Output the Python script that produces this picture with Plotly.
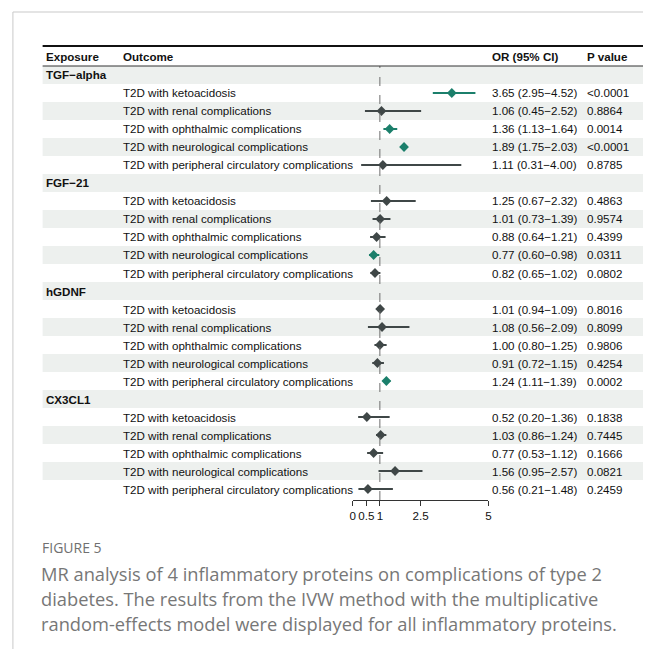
import plotly.graph_objects as go

# ---- data -------------------------------------------------------------
exposures = ["TGF\u2212alpha", "FGF\u221221", "hGDNF", "CX3CL1"]
outcomes = [
    "T2D with ketoacidosis",
    "T2D with renal complications",
    "T2D with ophthalmic complications",
    "T2D with neurological complications",
    "T2D with peripheral circulatory complications",
]
or_est = [3.65, 1.06, 1.36, 1.89, 1.11,
          1.25, 1.01, 0.88, 0.77, 0.82,
          1.01, 1.08, 1.00, 0.91, 1.24,
          0.52, 1.03, 0.77, 1.56, 0.56]
ci_low = [2.95, 0.45, 1.13, 1.75, 0.31,
          0.67, 0.73, 0.64, 0.60, 0.65,
          0.94, 0.56, 0.80, 0.72, 1.11,
          0.20, 0.86, 0.53, 0.95, 0.21]
ci_high = [4.52, 2.52, 1.64, 2.03, 4.00,
           2.32, 1.39, 1.21, 0.98, 1.02,
           1.09, 2.09, 1.25, 1.15, 1.39,
           1.36, 1.24, 1.12, 2.57, 1.48]
p_text = ["<0.0001", "0.8864", "0.0014", "<0.0001", "0.8785",
          "0.4863", "0.9574", "0.4399", "0.0311", "0.0802",
          "0.8016", "0.8099", "0.9806", "0.4254", "0.0002",
          "0.1838", "0.7445", "0.1666", "0.0821", "0.2459"]
x_ticks = [0, 0.5, 1, 2.5, 5]
caption_title = "FIGURE 5"
caption_lines = [
    "MR analysis of 4 inflammatory proteins on complications of type 2",
    "diabetes. The results from the IVW method with the multiplicative",
    "random-effects model were displayed for all inflammatory proteins.",
]

# ---- layout helpers (pixel -> paper) ----------------------------------
W, H = 646, 649
def px(x):
    return x / W
def py(y):
    return 1 - y / H

GREEN = "#1b7f6b"
GREY = "#3f4747"
SHADE = "#edf0ee"
FONT = "Liberation Sans, Arial, sans-serif"
FS = 11.6

ROW_TOP, ROW_H = 66, 18
n_rows = len(exposures) * (len(outcomes) + 1)
TABLE_BOTTOM = ROW_TOP + n_rows * ROW_H

# build table rows: group heading followed by its outcomes
rows = []
k = 0
for g in exposures:
    rows.append(dict(kind="group", label=g))
    for o in outcomes:
        p_num = float(p_text[k].replace("<", ""))
        rows.append(dict(kind="item", label=o, est=or_est[k], lo=ci_low[k],
                         hi=ci_high[k], p=p_text[k], sig=p_num < 0.05))
        k += 1

fig = go.Figure()

for sig, col in [(False, GREY), (True, GREEN)]:
    ys, xs, ep, em = [], [], [], []
    for i, r in enumerate(rows):
        if r["kind"] == "item" and r["sig"] == sig:
            ys.append(i)
            xs.append(r["est"])
            ep.append(r["hi"] - r["est"])
            em.append(r["est"] - r["lo"])
    fig.add_trace(go.Scatter(
        x=xs, y=ys, mode="markers",
        marker=dict(symbol="diamond", size=7.5, color=col),
        error_x=dict(type="data", symmetric=False, array=ep, arrayminus=em,
                     color=col, thickness=2, width=0),
        showlegend=False, hoverinfo="skip", cliponaxis=False,
    ))

shapes = []
annotations = []

# alternating row shading
for i in range(n_rows):
    if i % 2 == 0:
        shapes.append(dict(type="rect", xref="paper", yref="y",
                           x0=px(40), x1=1, y0=i - 0.5, y1=i + 0.5,
                           fillcolor=SHADE, line=dict(width=0), layer="below"))

# reference line at OR = 1
shapes.append(dict(type="line", xref="x", yref="paper", x0=1, x1=1,
                   y0=py(TABLE_BOTTOM + 2), y1=py(ROW_TOP),
                   line=dict(color="#6e6e6e", width=1, dash="dash"), layer="above"))

# header rules
shapes.append(dict(type="line", xref="paper", yref="paper", x0=px(40), x1=1,
                   y0=py(46), y1=py(46), line=dict(color="#111", width=2)))
shapes.append(dict(type="line", xref="paper", yref="paper", x0=px(40), x1=1,
                   y0=py(66), y1=py(66), line=dict(color="#333", width=1)))

# outer frame
shapes.append(dict(type="line", xref="paper", yref="paper", x0=px(10), x1=1,
                   y0=py(12), y1=py(12), line=dict(color="#c9c9c9", width=1)))
shapes.append(dict(type="line", xref="paper", yref="paper", x0=px(10), x1=px(10),
                   y0=py(12), y1=0, line=dict(color="#c9c9c9", width=1)))

def txt(x, y, s, yref="paper", size=FS, color="#111", family=FONT):
    annotations.append(dict(x=x, y=y, xref="paper", yref=yref, text=s,
                            showarrow=False, xanchor="left", yanchor="middle",
                            borderpad=0,
                            font=dict(family=family, size=size, color=color)))

# column left edges (annotation box adds a couple of pixels of padding)
COL_EXP, COL_OUT, COL_OR, COL_P = 42, 120, 493, 588

# header
for x0, s in [(COL_EXP, "Exposure"), (COL_OUT, "Outcome"),
              (COL_OR, "OR (95% CI)"), (COL_P, "P value")]:
    txt(px(x0), py(57), "<b>%s</b>" % s)

# body
for i, r in enumerate(rows):
    if r["kind"] == "group":
        txt(px(COL_EXP), i, "<b>%s</b>" % r["label"], yref="y")
    else:
        txt(px(COL_OUT), i, r["label"], yref="y")
        txt(px(COL_OR), i, "%.2f (%.2f\u2212%.2f)" % (r["est"], r["lo"], r["hi"]), yref="y")
        txt(px(COL_P), i, r["p"], yref="y")

# caption
CAP_FONT = "Open Sans, Lato, sans-serif"
txt(px(38), py(547), caption_title, size=14, color="#707070", family=CAP_FONT)
for j, line in enumerate(caption_lines):
    txt(px(37), py(573 + 25 * j), line, size=18.3, color="#777777", family=CAP_FONT)

fig.update_layout(
    width=W, height=H,
    margin=dict(l=0, r=0, t=0, b=0),
    paper_bgcolor="white", plot_bgcolor="rgba(0,0,0,0)",
    shapes=shapes, annotations=annotations,
    xaxis=dict(domain=[px(353), px(490)], range=[0, 5],
               tickvals=x_ticks, ticktext=[("%g" % v) for v in x_ticks],
               ticks="outside", ticklen=5, tickcolor="#333", tickwidth=1,
               showline=True, linecolor="#333", linewidth=1,
               showgrid=False, zeroline=False, anchor="free",
               position=py(TABLE_BOTTOM + 2),
               tickfont=dict(family=FONT, size=FS, color="#111")),
    yaxis=dict(domain=[py(TABLE_BOTTOM), py(ROW_TOP)],
               range=[n_rows - 0.5, -0.5], visible=False,
               showgrid=False, zeroline=False),
)

fig.write_html("out.html")
